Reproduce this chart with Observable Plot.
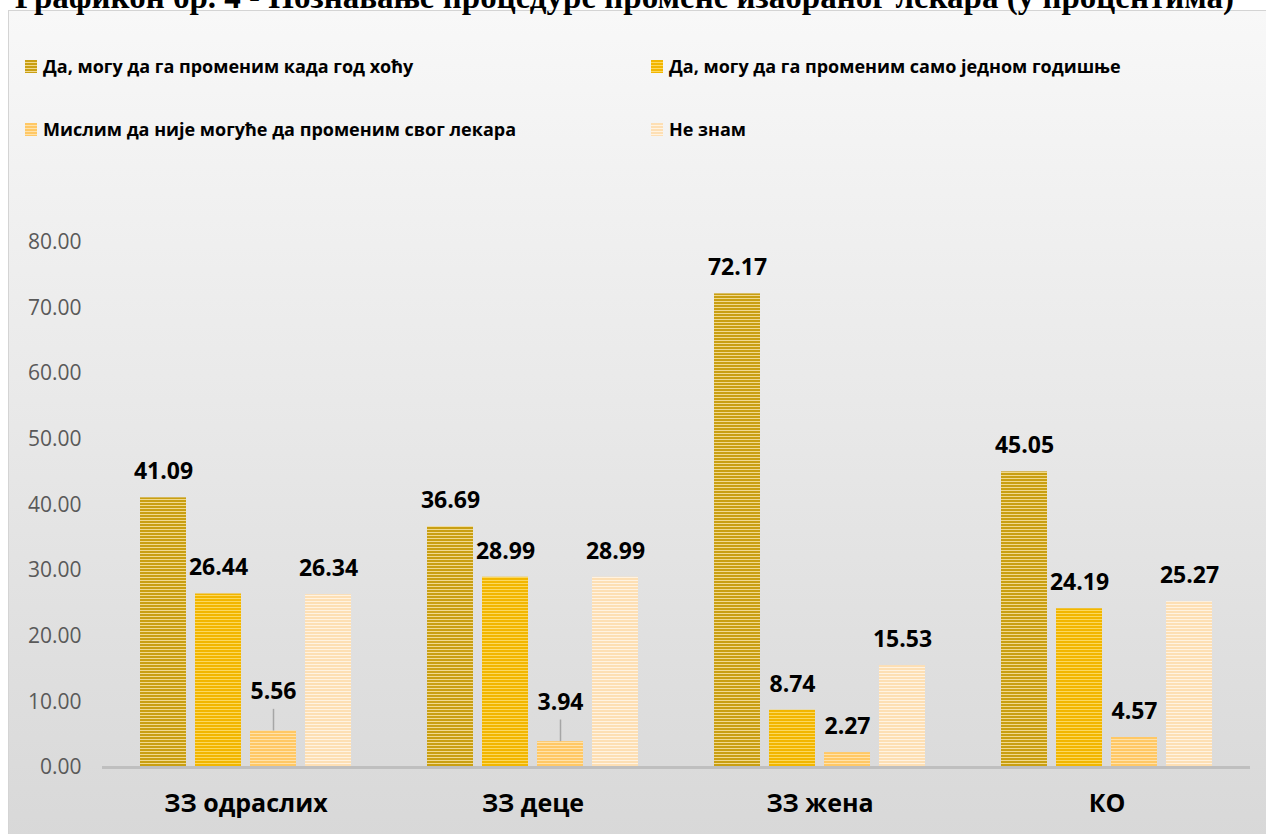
<!DOCTYPE html>
<html><head><meta charset="utf-8">
<script src="https://cdn.jsdelivr.net/npm/d3@7"></script>
<script src="https://cdn.jsdelivr.net/npm/@observablehq/plot@0.6"></script>
<style>
body{margin:0;width:1266px;height:834px;overflow:hidden;position:relative;background:#fff;font-family:"Open Sans",sans-serif;}
#box{position:absolute;left:8px;top:10px;width:1270px;height:830px;border:1px solid #d4d4d4;background:linear-gradient(#f8f8f8,#d8d8d8);}
#title{position:absolute;left:15px;top:-19px;font:bold 33px/33px "Liberation Serif",serif;white-space:nowrap;color:#000;z-index:2;}
.leg{position:absolute;display:flex;align-items:center;font-weight:bold;font-size:18px;color:#000;white-space:nowrap;height:20px;}
.sw{width:12px;height:13px;margin-right:6px;}
#chart{position:absolute;left:0;top:200px;}
</style></head><body>
<div id="box"></div>
<div id="title"></div>
<div id="legend"></div>
<div id="chart"></div>
<script>
const categories = ["ЗЗ одраслих", "ЗЗ деце", "ЗЗ жена", "КО"];
const seriesNames = [
  "Да, могу да га променим када год хоћу",
  "Да, могу да га променим само једном годишње",
  "Мислим да није могуће да променим свог лекара",
  "Не знам"
];
const anyTime = [41.09, 36.69, 72.17, 45.05];
const onceYear = [26.44, 28.99, 8.74, 24.19];
const notPossible = [5.56, 3.94, 2.27, 4.57];
const dontKnow = [26.34, 28.99, 15.53, 25.27];
const yTicks = [0, 10, 20, 30, 40, 50, 60, 70, 80];
const titleText = "Графикон бр. 4 - Познавање процедуре промене изабраног лекара (у процентима)";
// labels that were pulled up with a leader line in the original
const leaderLabels = ["ЗЗ одраслих|Мислим да није могуће да променим свог лекара", "ЗЗ деце|Мислим да није могуће да променим свог лекара"];

const darkCols = ["#c99f12", "#f2b600", "#ffc865", "#fddfb4"];
const lightCols = ["#f1d98e", "#fcd85e", "#ffe2ab", "#fff3e2"];

const seriesValues = [anyTime, onceYear, notPossible, dontKnow];
const data = [];
categories.forEach((c, i) => seriesNames.forEach((s, j) => data.push({category: c, series: s, value: seriesValues[j][i]})));
const isLeader = d => leaderLabels.includes(d.category + "|" + d.series);

document.getElementById("title").textContent = titleText;

// legend
const legPos = [[25, 66], [651, 66], [25, 129], [651, 129]];
const legend = document.getElementById("legend");
seriesNames.forEach((s, j) => {
  const d = document.createElement("div");
  d.className = "leg";
  d.style.left = legPos[j][0] + "px";
  d.style.top = (legPos[j][1] - 10) + "px";
  const sw = document.createElement("span");
  sw.className = "sw";
  sw.style.background = `repeating-linear-gradient(to bottom, ${darkCols[j]} 0px, ${darkCols[j]} 2px, ${lightCols[j]} 2px, ${lightCols[j]} 3px)`;
  const t = document.createElement("span");
  t.textContent = s;
  d.appendChild(sw); d.appendChild(t);
  legend.appendChild(d);
});

const fills = seriesNames.map((s, j) => `url(#pat${j})`);
const labelOpts = {fx: "category", x: "series", y: "value", text: d => d.value.toFixed(2), fontSize: 23, fontWeight: "bold", fill: "#000"};

const svg = Plot.plot({
  width: 1266, height: 634,
  marginLeft: 101, marginRight: 16, marginTop: 42, marginBottom: 67,
  style: {background: "transparent", fontFamily: "'Open Sans', sans-serif", overflow: "visible"},
  fx: {domain: categories, padding: 0, label: null},
  x: {domain: seriesNames, paddingInner: 0.17, paddingOuter: 0.67, axis: null},
  y: {domain: [0, 80], axis: null},
  color: {domain: seriesNames, range: fills},
  marks: [
    Plot.axisY({ticks: yTicks, tickFormat: d3.format(".2f"), tickSize: 0, tickPadding: 21, fontSize: 21, color: "#595959", label: null}),
    Plot.axisFx({anchor: "bottom", tickSize: 0, tickPadding: 27, fontSize: 25, fontWeight: "bold", color: "#000", label: null}),
    Plot.barY(data, {fx: "category", x: "series", y: "value", fill: "series"}),
    Plot.ruleY([0], {stroke: "#bfbfbf", strokeWidth: 3}),
    Plot.ruleX(data.filter(isLeader), {fx: "category", x: "series", y1: "value", y2: d => d.value + 3.3, stroke: "#a6a6a6", strokeWidth: 1.5}),
    Plot.text(data.filter(d => !isLeader(d)), {...labelOpts, dy: -26}),
    Plot.text(data.filter(isLeader), {...labelOpts, dy: -39})
  ]
});

const defs = d3.select(svg).insert("defs", ":first-child");
darkCols.forEach((dc, j) => {
  const p = defs.append("pattern").attr("id", `pat${j}`).attr("patternUnits", "userSpaceOnUse")
    .attr("width", 10).attr("height", 3);
  p.append("rect").attr("width", 10).attr("height", 3).attr("fill", dc);
  p.append("rect").attr("y", 2).attr("width", 10).attr("height", 1).attr("fill", lightCols[j]);
});

document.getElementById("chart").appendChild(svg);
</script>
</body></html>
